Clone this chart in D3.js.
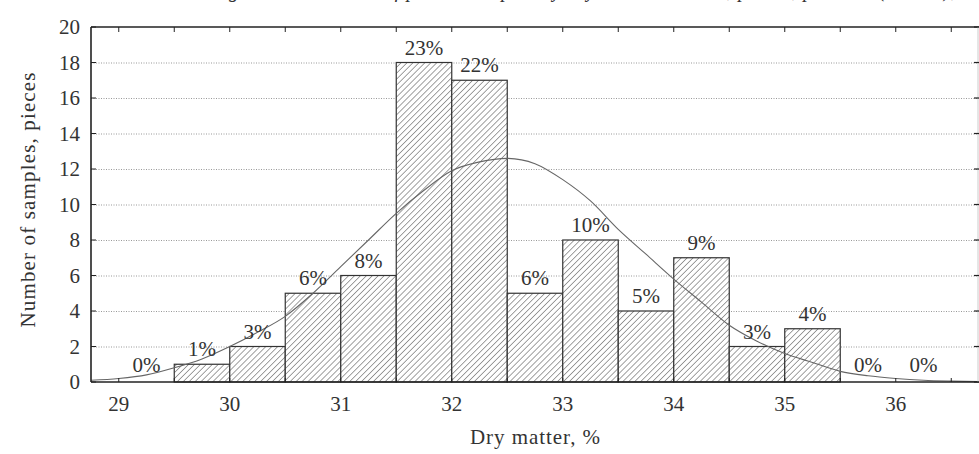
<!DOCTYPE html>
<html><head><meta charset="utf-8">
<script src="https://cdn.jsdelivr.net/npm/d3@7"></script>
<style>
html,body{margin:0;padding:0;background:#fff;}
svg{display:block;}
</style></head>
<body><svg id="c" width="979" height="454"></svg>
<script>
// ---- data ----
const binStarts = [29, 29.5, 30, 30.5, 31, 31.5, 32, 32.5, 33, 33.5, 34, 34.5, 35, 35.5, 36];
const counts    = [0, 1, 2, 5, 6, 18, 17, 5, 8, 4, 7, 2, 3, 0, 0];
const pctLabels = ["0%","1%","3%","6%","8%","23%","22%","6%","10%","5%","9%","3%","4%","0%","0%"];
const binWidth = 0.5;
const xTickLabels = [29, 30, 31, 32, 33, 34, 35, 36];
const yTickLabels = [0, 2, 4, 6, 8, 10, 12, 14, 16, 18, 20];
// fitted curve
const curveX = [28.75,29,29.25,29.5,29.75,30,30.25,30.5,30.75,31,31.25,31.5,31.75,32,32.25,32.5,32.75,33,33.25,33.5,33.75,34,34.25,34.5,34.75,35,35.25,35.5,35.75,36,36.25,36.5,36.75];
const curveY = [0.1,0.2,0.4,0.8,1.3,2.0,2.8,3.7,5.0,6.5,8.0,9.5,10.8,11.9,12.4,12.6,12.3,11.4,10.2,8.6,7.2,5.8,4.5,3.2,2.3,1.6,1.1,0.6,0.35,0.2,0.1,0.05,0.02];
const caption = "Fig. 4. Distribution of potato samples by dry matter content, pieces, per cent (n = 78), %";
const xTitle = "Dry matter, %";
const yTitle = "Number of samples, pieces";

// ---- chart ----
const FONT = "'Liberation Serif', 'Times New Roman', 'DejaVu Serif', serif";
const svg = d3.select("#c").attr("font-family", FONT);
const x = d3.scaleLinear().domain([28.75, 36.75]).range([91, 979]);
const y = d3.scaleLinear().domain([0, 20]).range([382, 27]);
const TXT = "#333";

const defs = svg.append("defs");
const pat = defs.append("pattern").attr("id","hatch").attr("patternUnits","userSpaceOnUse")
  .attr("width",4.2).attr("height",4.2).attr("patternTransform","rotate(45)");
pat.append("rect").attr("width",4.2).attr("height",4.2).attr("fill","#fff");
pat.append("line").attr("x1",0).attr("y1",0).attr("x2",0).attr("y2",4.2)
  .attr("stroke","#444").attr("stroke-width",1);

// caption (mostly cut off at top, as in the source)
svg.append("text").attr("x",210).attr("y",-3).attr("font-style","italic").attr("fill",TXT)
  .attr("font-size",20).attr("textLength",769).text(caption);

// plot background
svg.append("rect").attr("x",91).attr("y",27).attr("width",888).attr("height",355).attr("fill","#fff");

// grid
svg.append("g").selectAll("line").data(yTickLabels.filter(d=>d>0&&d<20)).join("line")
  .attr("x1",91).attr("x2",979).attr("y1",d=>y(d)+0.5).attr("y2",d=>y(d)+0.5)
  .attr("stroke","#999").attr("stroke-width",1).attr("stroke-dasharray","1,1.5");

// bars
const bars = binStarts.map((b,i)=>({b, c:counts[i], p:pctLabels[i]}));
svg.append("g").selectAll("rect").data(bars.filter(d=>d.c>0)).join("rect")
  .attr("x",d=>x(d.b)).attr("width",d=>x(d.b+binWidth)-x(d.b))
  .attr("y",d=>y(d.c)).attr("height",d=>y(0)-y(d.c))
  .attr("fill","url(#hatch)").attr("stroke","#333").attr("stroke-width",1.2);

// curve
svg.append("path").datum(curveX.map((v,i)=>[v,curveY[i]]))
  .attr("d", d3.line().x(d=>x(d[0])).y(d=>y(d[1])).curve(d3.curveMonotoneX))
  .attr("fill","none").attr("stroke","#666").attr("stroke-width",1.1);

// percentage labels
svg.append("g").selectAll("text").data(bars).join("text")
  .attr("x",d=>x(d.b+binWidth/2)).attr("y",d=>y(d.c)-(d.c===0?10:8))
  .attr("text-anchor","middle").attr("font-size",21).attr("fill",TXT).text(d=>d.p);

// axes frame
const halfTicks = d3.range(29, 36.51, 0.5);
const frame = svg.append("g").attr("stroke","#222").attr("fill","none");
frame.append("line").attr("x1",91).attr("x2",979).attr("y1",y(0)).attr("y2",y(0)).attr("stroke-width",1.6);
frame.append("line").attr("x1",91).attr("x2",979).attr("y1",y(20)).attr("y2",y(20)).attr("stroke-width",1.6);
frame.append("line").attr("x1",91).attr("x2",91).attr("y1",y(20)).attr("y2",y(0)).attr("stroke-width",1.6);
frame.append("line").attr("x1",978).attr("x2",978).attr("y1",y(20)).attr("y2",y(0)).attr("stroke","#ccc").attr("stroke-width",1);
frame.selectAll(".bt").data(halfTicks).join("line").attr("class","bt")
  .attr("x1",d=>x(d)).attr("x2",d=>x(d)).attr("y1",y(0)).attr("y2",y(0)-4).attr("stroke-width",1);
frame.selectAll(".tt").data(halfTicks).join("line").attr("class","tt")
  .attr("x1",d=>x(d)).attr("x2",d=>x(d)).attr("y1",y(20)).attr("y2",y(20)+5).attr("stroke-width",1);
frame.selectAll(".lt").data(yTickLabels).join("line").attr("class","lt")
  .attr("x1",91).attr("x2",96).attr("y1",d=>y(d)).attr("y2",d=>y(d)).attr("stroke-width",1);
frame.selectAll(".rt").data(yTickLabels).join("line").attr("class","rt")
  .attr("x1",974).attr("x2",979).attr("y1",d=>y(d)).attr("y2",d=>y(d)).attr("stroke-width",1.2);

// tick labels
svg.append("g").selectAll("text").data(yTickLabels).join("text")
  .attr("x",80).attr("y",d=>y(d)+7).attr("text-anchor","end").attr("font-size",21).attr("fill",TXT).text(d=>d);
svg.append("g").selectAll("text").data(xTickLabels).join("text")
  .attr("x",d=>x(d)).attr("y",411).attr("text-anchor","middle").attr("font-size",21).attr("fill",TXT).text(d=>d);

// titles
svg.append("text").attr("x",535).attr("y",444).attr("text-anchor","middle").attr("font-size",21)
  .attr("textLength",130).attr("fill",TXT).text(xTitle);
svg.append("text").attr("transform","translate(35,200) rotate(-90)").attr("text-anchor","middle")
  .attr("font-size",21).attr("textLength",255).attr("fill",TXT).text(yTitle);
</script></body></html>
